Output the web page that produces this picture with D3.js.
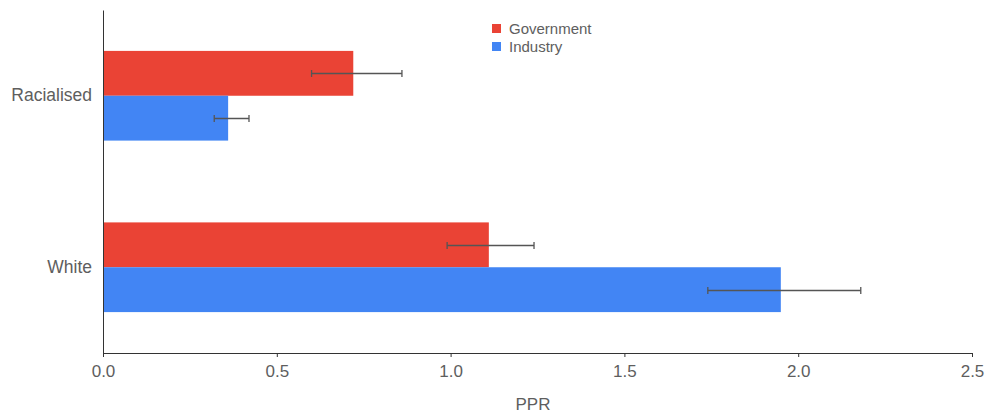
<!DOCTYPE html>
<html>
<head>
<meta charset="utf-8">
<script src="https://cdn.jsdelivr.net/npm/d3@7"></script>
<style>
  html, body { margin: 0; padding: 0; background: #fff; }
  svg { display: block; font-family: "Liberation Sans", Arial, sans-serif; }
</style>
</head>
<body>
<svg id="chart" width="985" height="417"></svg>
<script>
// PPR by group, for government and industry, with error ranges
const categories = ["Racialised", "White"];
const seriesNames = ["Government", "Industry"];
const seriesColors = ["#EA4335", "#4285F4"];
const governmentValues = [0.72, 1.11];
const governmentLow = [0.60, 0.99];
const governmentHigh = [0.86, 1.24];
const industryValues = [0.36, 1.95];
const industryLow = [0.32, 1.74];
const industryHigh = [0.42, 2.18];
const xTicks = [0, 0.5, 1.0, 1.5, 2.0, 2.5];
const xTitle = "PPR";

const svg = d3.select("#chart");
const margin = { left: 103, right: 13, top: 10, bottom: 64 };
const W = 985, H = 417;
const textColor = "#5e5e5e";

const x = d3.scaleLinear().domain([0, 2.5]).range([margin.left, W - margin.right]);
const y = d3.scaleBand().domain(categories).range([margin.top, H - margin.bottom])
  .paddingInner(0.477).paddingOuter(0.2385);
const ySub = d3.scaleBand().domain(seriesNames).range([0, y.bandwidth()]);

const rows = [];
categories.forEach((c, i) => {
  rows.push({ cat: c, s: "Government", v: governmentValues[i], lo: governmentLow[i], hi: governmentHigh[i] });
  rows.push({ cat: c, s: "Industry", v: industryValues[i], lo: industryLow[i], hi: industryHigh[i] });
});
const color = d3.scaleOrdinal().domain(seriesNames).range(seriesColors);

// bars
svg.append("g").selectAll("rect").data(rows).join("rect")
  .attr("x", x(0))
  .attr("y", d => y(d.cat) + ySub(d.s))
  .attr("width", d => x(d.v) - x(0))
  .attr("height", ySub.bandwidth())
  .attr("fill", d => color(d.s));

// error bars
const eb = svg.append("g").attr("stroke", "#555").attr("stroke-width", 1.3);
rows.forEach(d => {
  const cy = Math.round(y(d.cat) + ySub(d.s) + ySub.bandwidth() / 2) + 0.5;
  eb.append("line").attr("x1", x(d.lo)).attr("x2", x(d.hi)).attr("y1", cy).attr("y2", cy);
  [d.lo, d.hi].forEach(v => {
    eb.append("line").attr("x1", x(v)).attr("x2", x(v)).attr("y1", cy - 3.5).attr("y2", cy + 3.5);
  });
});

// x axis
const xAxis = svg.append("g").attr("transform", `translate(0,${H - margin.bottom})`)
  .call(d3.axisBottom(x).tickValues(xTicks).tickFormat(d3.format(".1f")).tickSizeInner(4).tickSizeOuter(0));
xAxis.select(".domain").attr("stroke", "#333");
xAxis.selectAll(".tick line").attr("stroke", "#333");
xAxis.selectAll(".tick text").attr("fill", textColor).attr("font-size", 17).attr("dy", "0.98em");

// y axis
const yAxis = svg.append("g").attr("transform", `translate(${margin.left},0)`)
  .call(d3.axisLeft(y).tickSize(0).tickPadding(11));
yAxis.select(".domain").attr("stroke", "#333");
yAxis.selectAll(".tick text").attr("fill", textColor).attr("font-size", 17.5);

// axis title
svg.append("text").attr("x", 533).attr("y", 410)
  .attr("text-anchor", "middle").attr("fill", textColor).attr("font-size", 17).text(xTitle);

// legend
const lg = svg.append("g").attr("transform", "translate(492,24)");
seriesNames.forEach((s, i) => {
  const g = lg.append("g").attr("transform", `translate(0,${i * 18})`);
  g.append("rect").attr("width", 9).attr("height", 9).attr("fill", color(s));
  g.append("text").attr("x", 17).attr("y", 9.5).attr("fill", textColor).attr("font-size", 15).text(s);
});
</script>
</body>
</html>
